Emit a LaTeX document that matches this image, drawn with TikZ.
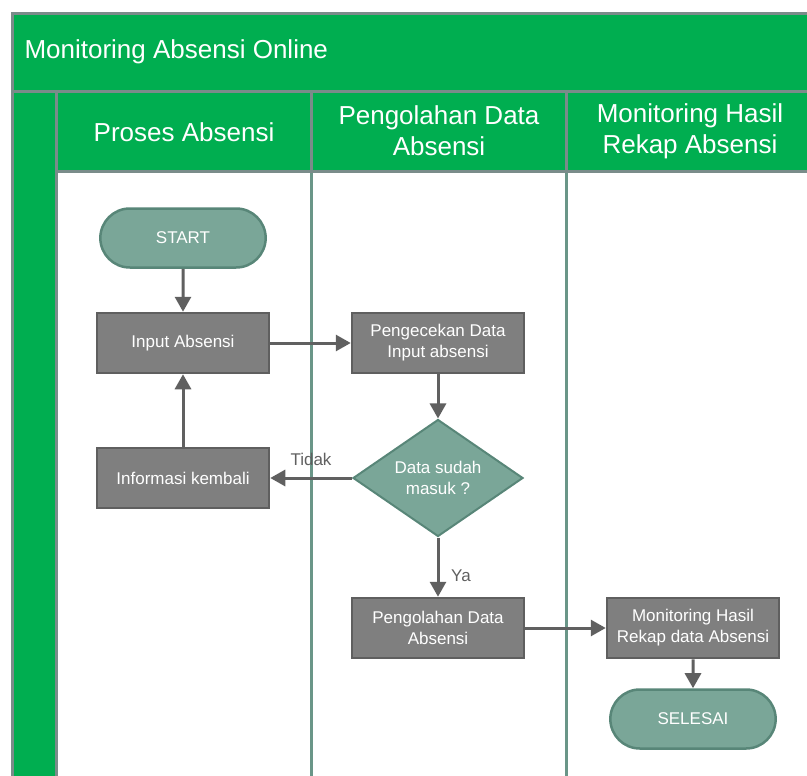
\documentclass[tikz,border=0pt]{standalone}
\usepackage{fontspec}
\setmainfont{Liberation Sans}
\usetikzlibrary{shapes.geometric,shapes.misc,arrows.meta}
\definecolor{lanegreen}{RGB}{0,174,80}
\definecolor{frameg}{RGB}{122,140,138}
\definecolor{laneline}{RGB}{106,150,136}
\definecolor{tealfill}{RGB}{122,166,152}
\definecolor{tealdraw}{RGB}{88,134,120}
\definecolor{boxfill}{RGB}{127,127,127}
\definecolor{boxdraw}{RGB}{95,95,95}
\definecolor{arrowc}{RGB}{96,96,96}
\tikzset{
  procbox/.style={rectangle, fill=boxfill, draw=boxdraw, line width=2.5pt, minimum width=172pt, minimum height=60pt, inner sep=2pt, align=center, text=white, font=\fontsize{17}{21}\selectfont},
  termbox/.style={rounded rectangle, fill=tealfill, draw=tealdraw, line width=2.5pt, minimum width=172pt, minimum height=59pt, align=center, text=white, font=\fontsize{17}{21}\selectfont},
  decbox/.style={diamond, fill=tealfill, draw=tealdraw, line width=2pt, minimum width=170pt, minimum height=117pt, aspect=1.45, inner sep=0pt, align=center, text=white, font=\fontsize{17}{21}\selectfont},
  flow/.style={draw=arrowc, line width=3pt, -{Triangle[length=15pt,width=16pt]}},
  headtext/.style={text=white, font=\fontsize{26}{31}\selectfont, align=center},
  lbl/.style={text=arrowc, font=\fontsize{17}{21}\selectfont}
}
\begin{document}
\begin{tikzpicture}[x=1pt,y=-1pt]
\useasboundingbox (0,0) rectangle (807,776);
% top band
\fill[lanegreen] (12,14) rectangle (807,92);
% left strip
\fill[lanegreen] (12,92) rectangle (56,776);
% lane headers
\fill[lanegreen] (56,92) rectangle (807,171);
\draw[laneline, line width=3pt] (311,171) -- (311,776);
\draw[laneline, line width=3pt] (566,171) -- (566,776);
\draw[frameg, line width=3pt] (807,14) -- (12,14) -- (12,776);
\draw[frameg, line width=3pt] (12,92) -- (807,92);
\draw[frameg, line width=3pt] (56,92) -- (56,776);
\draw[frameg, line width=3pt] (56,171) -- (807,171);
\draw[frameg, line width=3pt] (311,92) -- (311,171);
\draw[frameg, line width=3pt] (566,92) -- (566,171);
\node[headtext, anchor=west] (title) at (21,52) {Monitoring Absensi Online};
\node[headtext] (h1) at (184,132) {Proses Absensi};
\node[headtext] (h2) at (439,131) {Pengolahan Data\\Absensi};
\node[headtext] (h3) at (690,131) {Monitoring Hasil\\Rekap Absensi};
% nodes
\node[termbox] (start) at (183,238) {START};
\node[procbox] (input) at (183,343) {Input Absensi};
\node[procbox] (info) at (183,478) {Informasi kembali};
\node[procbox] (cek) at (438,343) {Pengecekan Data\\Input absensi};
\node[decbox] (dec) at (438,478) {Data sudah\\masuk ?};
\node[procbox] (olah) at (438,628) {Pengolahan Data\\Absensi};
\node[procbox] (mon) at (693,628) {Monitoring Hasil\\Rekap data Absensi};
\node[termbox] (end) at (693,719) {SELESAI};
% connectors
\draw[flow] (start) -- (input);
\draw[flow] (input) -- (cek);
\draw[flow] (cek) -- (dec);
\draw[flow] (dec.west) -- (info.east);
\draw[flow] (info) -- (input);
\draw[flow] (dec.south) -- (olah.north);
\draw[flow] (olah) -- (mon);
\draw[flow] (mon) -- (end);
\node[lbl] (tidak) at (311,459) {Tidak};
\node[lbl] (ya) at (461,576) {Ya};
\end{tikzpicture}
\end{document}
